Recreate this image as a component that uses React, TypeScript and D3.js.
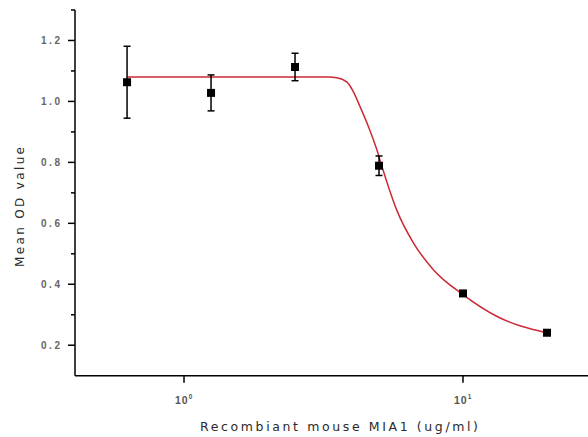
import React from "react";
import * as d3 from "d3";

// measured points (concentration, mean OD, error)
const conc = [0.625, 1.25, 2.5, 5, 10, 20];
const meanOD = [1.063, 1.028, 1.113, 0.789, 0.37, 0.241];
const errOD = [0.118, 0.059, 0.045, 0.032, 0.008, 0.006];

// fitted curve
const fitX = [0.625, 1.5, 2.5, 3.3, 3.53, 3.83, 4.04, 4.27, 4.58, 4.91, 5.12, 5.4, 5.78, 6.64, 7.83, 10.0, 13.2, 19.9];
const fitY = [1.08, 1.08, 1.08, 1.08, 1.078, 1.064, 1.033, 0.984, 0.918, 0.842, 0.787, 0.721, 0.645, 0.536, 0.448, 0.366, 0.295, 0.241];

const yTicks = [0.2, 0.4, 0.6, 0.8, 1.0, 1.2];
const yMinor = [0.3, 0.5, 0.7, 0.9, 1.1, 1.3];
const xTicks = [1, 10];
const xTickExp = ["0", "1"];

const W = 588;
const H = 437;
const font = "'Liberation Sans', Arial, sans-serif";
const wideFont = "'DejaVu Sans', Verdana, sans-serif";

export default function App() {
  const x = d3.scaleLog().domain([0.4067, 28.06]).range([75, 588]);
  const y = d3.scaleLinear().domain([0.1, 1.3]).range([375.7, 10]);

  const line = d3
    .line<number>()
    .x((d, i) => x(fitX[i]))
    .y((d) => y(d))
    .curve(d3.curveMonotoneX);

  const x0 = x.range()[0];
  const y0 = y.range()[0];

  return (
    <svg
      width={W}
      height={H}
      style={{ position: "absolute", left: 0, top: 0, background: "#fff" }}
    >
      {/* fit curve */}
      <path d={line(fitY) || ""} fill="none" stroke="#cc2936" strokeWidth={1.5} />

      {/* error bars + markers */}
      {conc.map((c, i) => {
        const cx = x(c);
        const top = y(meanOD[i] + errOD[i]);
        const bot = y(meanOD[i] - errOD[i]);
        return (
          <g key={i}>
            <line x1={cx} x2={cx} y1={top} y2={bot} stroke="#000" strokeWidth={1.5} />
            <line x1={cx - 3.5} x2={cx + 3.5} y1={top} y2={top} stroke="#000" strokeWidth={1.5} />
            <line x1={cx - 3.5} x2={cx + 3.5} y1={bot} y2={bot} stroke="#000" strokeWidth={1.5} />
            <rect x={cx - 4} y={y(meanOD[i]) - 4} width={8} height={8} fill="#000" />
          </g>
        );
      })}

      {/* y axis */}
      <line x1={x0} x2={x0} y1={y(1.3)} y2={y0} stroke="#000" strokeWidth={1.5} />
      {yTicks.map((t) => (
        <g key={t}>
          <line x1={x0 - 7} x2={x0} y1={y(t)} y2={y(t)} stroke="#000" strokeWidth={1.5} />
          <text
            x={41}
            y={y(t)}
            dy="0.35em"
            textLength={19}
            lengthAdjust="spacing"
            fontFamily={font}
            fontSize={10}
            fontWeight="bold"
            fill="#666"
          >
            {t.toFixed(1)}
          </text>
        </g>
      ))}
      {yMinor.map((t) => (
        <line key={t} x1={x0 - 4} x2={x0} y1={y(t)} y2={y(t)} stroke="#000" strokeWidth={1.5} />
      ))}
      <text
        transform={`translate(20,${207}) rotate(-90)`}
        x={-60}
        dy="0.35em"
        textLength={120}
        lengthAdjust="spacing"
        fontFamily={wideFont}
        fontSize={12}
        fill="#2a2a2a"
      >
        Mean OD value
      </text>

      {/* x axis */}
      <line x1={x0} x2={W} y1={y0} y2={y0} stroke="#000" strokeWidth={1.5} />
      {xTicks.map((t, i) => (
        <g key={t}>
          <line x1={x(t)} x2={x(t)} y1={y0} y2={y0 + 7} stroke="#000" strokeWidth={1.5} />
          <text
            x={x(t) - 9}
            y={404}
            fontFamily={font}
            fontSize={10.5}
            fontWeight="bold"
            letterSpacing={1}
            fill="#555"
          >
            10
            <tspan dy={-5} fontSize={6.5}>
              {xTickExp[i]}
            </tspan>
          </text>
        </g>
      ))}
      <text
        x={200}
        y={431}
        textLength={278}
        lengthAdjust="spacing"
        fontFamily={wideFont}
        fontSize={12.5}
        fill="#2a2a2a"
      >
        Recombiant mouse MIA1 (ug/ml)
      </text>
    </svg>
  );
}
